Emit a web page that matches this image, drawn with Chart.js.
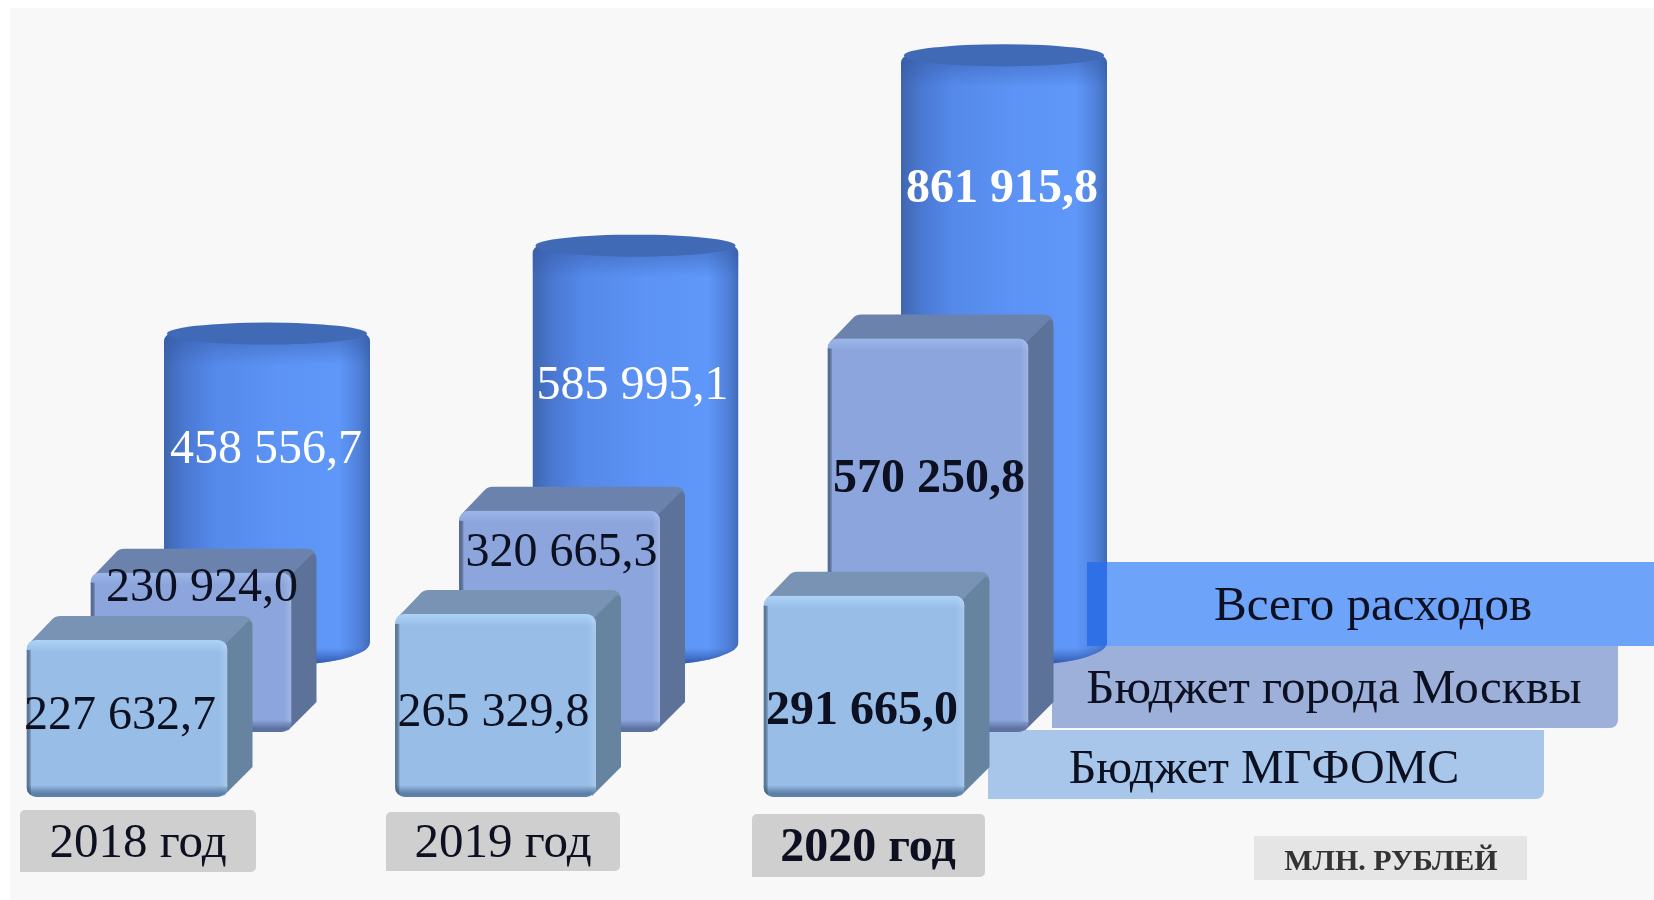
<!DOCTYPE html>
<html>
<head>
<meta charset="utf-8">
<style>
  html, body { margin: 0; padding: 0; background: #fff; }
  canvas { display: block; }
</style>
<script src="https://cdn.jsdelivr.net/npm/chart.js@4/dist/chart.umd.min.js"></script>
</head>
<body>
<canvas id="budget_chart" width="1654" height="900"></canvas>
<script>
// values, млн. рублей
var years = ["2018 год", "2019 год", "2020 год"];
var budgetFoms = [227632.7, 265329.8, 291665.0];
var budgetMoscow = [230924.0, 320665.3, 570250.8];
var totalSpend = [458556.7, 585995.1, 861915.8];
var seriesNames = ["Бюджет МГФОМС", "Бюджет города Москвы", "Всего расходов"];
var unitLabel = "МЛН. РУБЛЕЙ";

// layout of the picture
var W = 1654, H = 900;
var pxPerUnit = 0.00069;          // all three y axes share this, only the baseline moves
var catStep = 368.5;
var serif = '"Liberation Serif", serif';

function yRange(basePx) {
  var min = -(H - basePx) / pxPerUnit;
  return { min: min, max: min + H / pxPerUnit };
}
function xRange(firstPx) {
  var min = -firstPx / catStep;
  return { min: min, max: min + W / catStep };
}
function points(values) {
  return values.map(function (v, i) { return { x: i, y: v }; });
}

function axisX(firstPx) {
  var r = xRange(firstPx);
  return { type: "linear", display: false, offset: false, min: r.min, max: r.max };
}
function axisY(basePx) {
  var r = yRange(basePx);
  return { type: "linear", display: false, min: r.min, max: r.max };
}

// look of each series
var boxFront = {
  fill: "#98bee8", hi: "#aed3f7", lo: "#5d7fa8", top: "#7893b4", side: "#66839f"
};
var boxBack = {
  fill: "#8ca5dc", hi: "#9db6ea", lo: "#5c72a2", top: "#6b83ac", side: "#5d7298"
};

function roundedFront(ctx, x, y, w, h, r) {
  ctx.beginPath();
  ctx.roundRect(x, y, w, h, r);
}

function drawBox(ctx, bar, look) {
  var dx = 25, dy = 24;
  var l = bar.x - bar.width / 2, r = bar.x + bar.width / 2;
  var t = bar.y, b = bar.base;

  // top face
  ctx.fillStyle = look.top;
  ctx.beginPath();
  ctx.moveTo(l + 2, t + 4);
  ctx.lineTo(l + dx, t - dy + 4);
  ctx.quadraticCurveTo(l + dx + 3, t - dy, l + dx + 9, t - dy);
  ctx.lineTo(r + dx - 10, t - dy);
  ctx.quadraticCurveTo(r + dx, t - dy, r + dx, t - dy + 10);
  ctx.lineTo(r, t + 6);
  ctx.closePath();
  ctx.fill();

  // side face
  ctx.fillStyle = look.side;
  ctx.beginPath();
  ctx.moveTo(r - 2, t + 4);
  ctx.lineTo(r + dx - 4, t - dy + 5);
  ctx.quadraticCurveTo(r + dx, t - dy + 5, r + dx, t - dy + 12);
  ctx.lineTo(r + dx, b - dy - 6);
  ctx.lineTo(r - 4, b - 1);
  ctx.closePath();
  ctx.fill();

  // front face with soft bevel
  ctx.save();
  roundedFront(ctx, l, t, bar.width, b - t, 10);
  ctx.clip();
  ctx.fillStyle = look.fill;
  ctx.fillRect(l, t, bar.width, b - t);

  var g = ctx.createLinearGradient(0, t, 0, t + 12);
  g.addColorStop(0, look.hi);
  g.addColorStop(1, look.fill);
  ctx.fillStyle = g;
  ctx.fillRect(l, t, bar.width, 12);

  g = ctx.createLinearGradient(0, b - 12, 0, b);
  g.addColorStop(0, look.fill);
  g.addColorStop(0.7, look.lo);
  g.addColorStop(1, look.lo);
  ctx.fillStyle = g;
  ctx.fillRect(l, b - 12, bar.width, 12);

  g = ctx.createLinearGradient(l, 0, l + 5, 0);
  g.addColorStop(0, look.lo);
  g.addColorStop(1, "rgba(0,0,0,0)");
  ctx.fillStyle = g;
  ctx.fillRect(l, t + 10, 5, b - t - 10);

  g = ctx.createLinearGradient(r - 8, 0, r, 0);
  g.addColorStop(0, "rgba(255,255,255,0)");
  g.addColorStop(1, "rgba(255,255,255,0.18)");
  ctx.fillStyle = g;
  ctx.fillRect(r - 8, t, 8, b - t - 10);
  ctx.restore();
}

function drawCylinder(ctx, bar) {
  var l = bar.x - bar.width / 2, r = bar.x + bar.width / 2;
  var rx = bar.width / 2, ryTop = 11, ryBottom = 18;
  var t = bar.y, b = bar.base;

  ctx.save();
  ctx.beginPath();
  ctx.moveTo(l, t + 8);
  ctx.lineTo(l, b - 8);
  ctx.quadraticCurveTo(l, b, l + 14, b + 5);
  ctx.ellipse(bar.x, b - 2, rx - 8, ryBottom, 0, Math.PI * 0.88, Math.PI * 0.12, true);
  ctx.quadraticCurveTo(r, b, r, b - 8);
  ctx.lineTo(r, t + 8);
  ctx.quadraticCurveTo(r, t, r - 14, t - 3);
  ctx.lineTo(l + 14, t - 3);
  ctx.quadraticCurveTo(l, t, l, t + 8);
  ctx.closePath();
  ctx.clip();

  var g = ctx.createLinearGradient(l, 0, r, 0);
  g.addColorStop(0, "#3f66ae");
  g.addColorStop(0.1, "#4a78d2");
  g.addColorStop(0.25, "#5589ea");
  g.addColorStop(0.55, "#5c93f4");
  g.addColorStop(0.85, "#5f98fa");
  g.addColorStop(0.95, "#4f80d8");
  g.addColorStop(1, "#3f6ab8");
  ctx.fillStyle = g;
  ctx.fillRect(l, t - 20, bar.width, b - t + 50);

  // darker band under the lid
  g = ctx.createLinearGradient(0, t + 8, 0, t + 32);
  g.addColorStop(0, "rgba(50,85,160,0.4)");
  g.addColorStop(1, "rgba(50,85,160,0)");
  ctx.fillStyle = g;
  ctx.fillRect(l, t, bar.width, 34);

  // curve at the bottom
  g = ctx.createLinearGradient(0, b - 2, 0, b + 17);
  g.addColorStop(0, "rgba(45,80,165,0)");
  g.addColorStop(0.7, "rgba(45,80,165,0.75)");
  g.addColorStop(1, "rgba(45,80,165,0.95)");
  ctx.fillStyle = g;
  ctx.fillRect(l, b - 2, bar.width, 20);
  ctx.restore();

  // lid
  ctx.fillStyle = "#4069b6";
  ctx.beginPath();
  ctx.ellipse(bar.x, t, rx - 3, ryTop, 0, 0, Math.PI * 2);
  ctx.fill();
}

var looks = [boxFront, boxBack, null];

// where each value sits inside its bar, as a part of the bar height (from the base)
var labelHeight = [
  [0.53, 0.475, 0.44],
  [0.92, 0.82, 0.65],
  [0.64, 0.66, 0.78]
];
var labelShift = [[-7, -2, -2], [11, 2, 1], [-1, -3, -2]];
var labelColors = ["#0c1020", "#0c1020", "#ffffff"];

function formatValue(v) {
  var s = v.toFixed(1).split(".");
  return s[0].replace(/\B(?=(\d{3})+$)/g, " ") + "," + s[1];
}

var shapes3d = {
  id: "shapes3d",
  beforeDraw: function (chart) {
    var ctx = chart.ctx;
    ctx.save();
    ctx.fillStyle = "#ffffff";
    ctx.fillRect(0, 0, W, H);
    ctx.fillStyle = "#f8f8f8";
    ctx.fillRect(10, 8, W - 10, H - 8);
    ctx.restore();
  },
  beforeDatasetDraw: function (chart, args) {
    var ctx = chart.ctx;
    args.meta.data.forEach(function (bar) {
      if (looks[args.index]) drawBox(ctx, bar, looks[args.index]);
      else drawCylinder(ctx, bar);
    });
    return false;
  }
};

// hand made legend strips, the top one lies over the last cylinder
var legendStrips = [
  { x0: 988, x1: 1544, y0: 730, y1: 799, textX: 1264, textY: 770, size: 48, color: "#a7c6e9" },
  { x0: 1052, x1: 1618, y0: 646, y1: 728, textX: 1334, textY: 690, size: 49, color: "#9db0d9" },
  { x0: 1087, x1: 1660, y0: 562, y1: 646, textX: 1373, textY: 607, size: 49, color: "#70a8ff" }
];

function drawStrip(ctx, s) {
  ctx.fillStyle = s.color;
  ctx.beginPath();
  ctx.roundRect(s.x0, s.y0, s.x1 - s.x0, s.y1 - s.y0, [0, 0, 8, 0]);
  ctx.fill();
}

function centerText(ctx, text, x, y, font, color) {
  ctx.font = font;
  ctx.fillStyle = color;
  ctx.textAlign = "center";
  ctx.textBaseline = "middle";
  ctx.fillText(text, x, y);
}

var yearBoxes = [
  { x0: 20, x1: 256, y0: 810, y1: 872, textX: 138, textY: 844 },
  { x0: 386, x1: 620, y0: 812, y1: 871, textX: 503, textY: 844 },
  { x0: 752, x1: 985, y0: 814, y1: 877, textX: 868, textY: 849 }
];

var textLayer = {
  id: "textLayer",
  beforeDatasetsDraw: function (chart) {
    var ctx = chart.ctx;
    ctx.save();
    drawStrip(ctx, legendStrips[0]);
    drawStrip(ctx, legendStrips[1]);
    ctx.restore();
  },
  afterDatasetsDraw: function (chart) {
    var ctx = chart.ctx;
    ctx.save();

    // see-through over the cylinder, but not as dark as plain multiply
    ctx.globalCompositeOperation = "multiply";
    drawStrip(ctx, legendStrips[2]);
    ctx.globalCompositeOperation = "lighten";
    drawStrip(ctx, { x0: 1087, x1: 1660, y0: 562, y1: 646, color: "#2f70e6" });
    ctx.globalCompositeOperation = "source-over";

    legendStrips.forEach(function (s, i) {
      centerText(ctx, seriesNames[i], s.textX, s.textY, s.size + "px " + serif, "#0c1020");
    });

    yearBoxes.forEach(function (b, i) {
      ctx.fillStyle = "#cfcfcf";
      ctx.beginPath();
      ctx.roundRect(b.x0, b.y0, b.x1 - b.x0, b.y1 - b.y0, [5, 5, 5, 0]);
      ctx.fill();
      var font = i == 2 ? "bold 48px " : "49px ";
      centerText(ctx, years[i], b.textX, b.textY, font + serif, "#0c1020");
    });

    ctx.fillStyle = "#e6e5e5";
    ctx.fillRect(1254, 836, 273, 44);
    centerText(ctx, unitLabel, 1391, 862, "bold 30px " + serif, "#333333");

    chart.data.datasets.forEach(function (ds, d) {
      chart.getDatasetMeta(d).data.forEach(function (bar, i) {
        var y = bar.base - (bar.base - bar.y) * labelHeight[d][i] + 3;
        var font = (i == 2 ? "bold " : "") + "48px " + serif;
        centerText(ctx, formatValue(ds.data[i].y), bar.x + labelShift[d][i], y, font, labelColors[d]);
      });
    });

    ctx.restore();
  }
};

var chart = new Chart(document.getElementById("budget_chart"), {
  type: "bar",
  data: {
    datasets: [
      { label: seriesNames[0], data: points(budgetFoms), xAxisID: "x1", yAxisID: "y1", barThickness: 201, grouped: false, backgroundColor: boxFront.fill },
      { label: seriesNames[1], data: points(budgetMoscow), xAxisID: "x2", yAxisID: "y2", barThickness: 201, grouped: false, backgroundColor: boxBack.fill },
      { label: seriesNames[2], data: points(totalSpend), xAxisID: "x3", yAxisID: "y3", barThickness: 206, grouped: false, backgroundColor: "#5c93f4" }
    ]
  },
  options: {
    responsive: false,
    maintainAspectRatio: false,
    animation: false,
    layout: { padding: 0 },
    plugins: { legend: { display: false }, tooltip: { enabled: false } },
    scales: {
      x1: axisX(127),
      x2: axisX(191),
      x3: axisX(267),
      y1: axisY(797),
      y2: axisY(732),
      y3: axisY(650)
    }
  },
  plugins: [shapes3d, textLayer]
});
</script>
</body>
</html>
